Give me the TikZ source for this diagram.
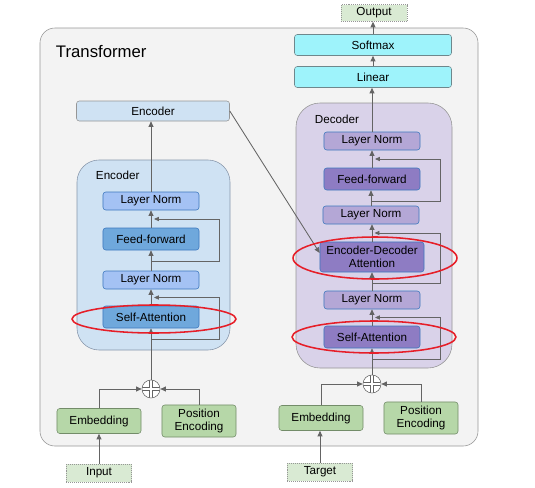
\documentclass[tikz,border=0pt]{standalone}
\usepackage{fontspec}
\setmainfont{Liberation Sans}
\usepackage{tikz}
\usetikzlibrary{calc,positioning,arrows.meta}
\definecolor{outerfill}{RGB}{243,243,243}
\definecolor{framecol}{RGB}{150,150,150}
\definecolor{encfill}{RGB}{207,226,243}
\definecolor{encline}{RGB}{135,150,170}
\definecolor{lnblue}{RGB}{164,194,244}
\definecolor{ffblue}{RGB}{111,168,220}
\definecolor{blueline}{RGB}{61,120,190}
\definecolor{decfill}{RGB}{217,210,233}
\definecolor{lnpurple}{RGB}{180,167,214}
\definecolor{ffpurple}{RGB}{142,124,195}
\definecolor{cyanfill}{RGB}{158,243,251}
\definecolor{cyanline}{RGB}{110,135,140}
\definecolor{greenfill}{RGB}{182,215,168}
\definecolor{greenline}{RGB}{115,140,105}
\definecolor{iofill}{RGB}{217,234,211}
\definecolor{arrowcol}{RGB}{100,100,100}
\definecolor{ringred}{RGB}{230,30,40}

\begin{document}
\begin{tikzpicture}[x=0.025cm, y=-0.025cm, font=\fontsize{8.3}{9.6}\selectfont,
  blk/.style={draw, rounded corners=2pt, minimum width=2.4cm, minimum height=0.45cm, inner sep=1pt, align=center},
  lnenc/.style={blk, fill=lnblue, draw=blueline},
  ffenc/.style={blk, fill=ffblue, draw=blueline, minimum height=0.55cm},
  lndec/.style={blk, fill=lnpurple, draw=blueline},
  ffdec/.style={blk, fill=ffpurple, draw=blueline, minimum height=0.55cm},
  outbox/.style={blk, fill=cyanfill, draw=cyanline, minimum width=3.925cm, minimum height=0.525cm},
  embbox/.style={blk, fill=greenfill, draw=greenline, minimum width=2.1cm, minimum height=0.625cm},
  posbox/.style={blk, fill=greenfill, draw=greenline, minimum width=1.85cm, minimum height=0.8cm, font=\fontsize{8.3}{9.3}\selectfont},
  iobox/.style={draw=framecol, densely dotted, fill=iofill, minimum width=1.625cm, minimum height=0.45cm, inner sep=1pt},
  plus/.style={circle, draw=arrowcol, fill=white, minimum size=0.45cm, inner sep=0pt,
    path picture={\draw[arrowcol, double=white, double distance=1.8pt, line width=0.4pt]
      (path picture bounding box.north) -- (path picture bounding box.south)
      (path picture bounding box.west) -- (path picture bounding box.east);}},
  arr/.style={draw=arrowcol, line width=0.6pt, -{Triangle[length=4pt,width=3.5pt]}},
  res/.style={draw=arrowcol, line width=0.6pt, -{Triangle[length=3.5pt,width=3pt]}},
  ring/.style={draw=ringred, line width=1.1pt}]
  \useasboundingbox (0,0) rectangle (535,488);

  % Transformer frame
  \draw[framecol, fill=outerfill, rounded corners=0.37cm] (40,28) rectangle (478,446);
  \node[anchor=west, font=\fontsize{11.9}{14}\selectfont] (title) at (51,52) {Transformer};

  % Encoder
  \draw[encline, fill=encfill, rounded corners=0.55cm] (77,160) rectangle (230,350);
  \node[anchor=west] (enclabel) at (91,175) {Encoder};
  \node[blk, fill=encfill, draw=framecol, minimum width=3.825cm, minimum height=0.5cm] (enc) at (153,111) {Encoder};
  \node[lnenc] (eln2) at (151,201) {Layer Norm};
  \node[ffenc] (eff)  at (151,239) {Feed-forward};
  \node[lnenc] (eln1) at (151,280) {Layer Norm};
  \node[ffenc] (esa)  at (151,317) {Self-Attention};
  \node[plus] (eplus) at (151,389) {};
  \node[embbox] (eemb) at (99,421) {Embedding};
  \node[posbox] (epos) at (199,421) {Position\\Encoding};
  \node[iobox] (input) at (99,473) {Input};

  % Decoder
  \draw[framecol, fill=decfill, rounded corners=0.6cm] (296,103) rectangle (452,368);
  \node[anchor=west] (declabel) at (310,119) {Decoder};
  \node[iobox, minimum width=1.65cm, minimum height=0.42cm] (output) at (374,13) {Output};
  \node[outbox] (softmax) at (373,45) {Softmax};
  \node[outbox] (linear)  at (373,77) {Linear};
  \node[lndec] (dln3) at (372,141) {Layer Norm};
  \node[ffdec] (dff)  at (372,179) {Feed-forward};
  \node[lndec] (dln2) at (371,215) {Layer Norm};
  \node[ffdec, minimum width=2.6cm, minimum height=0.75cm] (deda) at (372,257) {Encoder-Decoder\\Attention};
  \node[lndec] (dln1) at (372,300) {Layer Norm};
  \node[ffdec] (dsa)  at (372,337) {Self-Attention};
  \node[plus] (dplus) at (372,384) {};
  \node[embbox] (demb) at (321,418) {Embedding};
  \node[posbox] (dpos) at (421,418) {Position\\Encoding};
  \node[iobox] (target) at (320,472) {Target};

  % main flow
  \foreach \a/\b in {input/eemb, eplus/esa, esa/eln1, eln1/eff, eff/eln2, eln2/enc,
                     target/demb, dplus/dsa, dsa/dln1, dln1/deda, deda/dln2, dln2/dff,
                     dff/dln3, dln3/linear, linear/softmax, softmax/output}{
    \draw[arr] (\a.north) -- (\a.north |- \b.south);
  }
  \draw[arr] (eemb.north) |- (eplus.west);
  \draw[arr] (epos.north) |- (eplus.east);
  \draw[arr] (demb.north) |- (dplus.west);
  \draw[arr] (dpos.north) |- (dplus.east);
  \draw[arr] (enc.east) -- ($(deda.west)+(0,-4)$);

  % residual connections
  \foreach \blk/\above in {esa/eln1, eff/eln2, dsa/dln1, deda/dln2, dff/dln3}{
    \draw[res] (\blk.south) ++(0,11) -- ++(68,0) |- ($(\blk.north)!0.5!(\above.south)+(3,0)$);
  }

  % highlighted attention blocks
  \draw[ring] ($(esa)+(3,2)$) ellipse [x radius=82, y radius=14];
  \draw[ring] ($(deda)+(3,1)$) ellipse [x radius=82, y radius=21];
  \draw[ring] ($(dsa)+(2,0)$) ellipse [x radius=82, y radius=16];
\end{tikzpicture}
\end{document}
